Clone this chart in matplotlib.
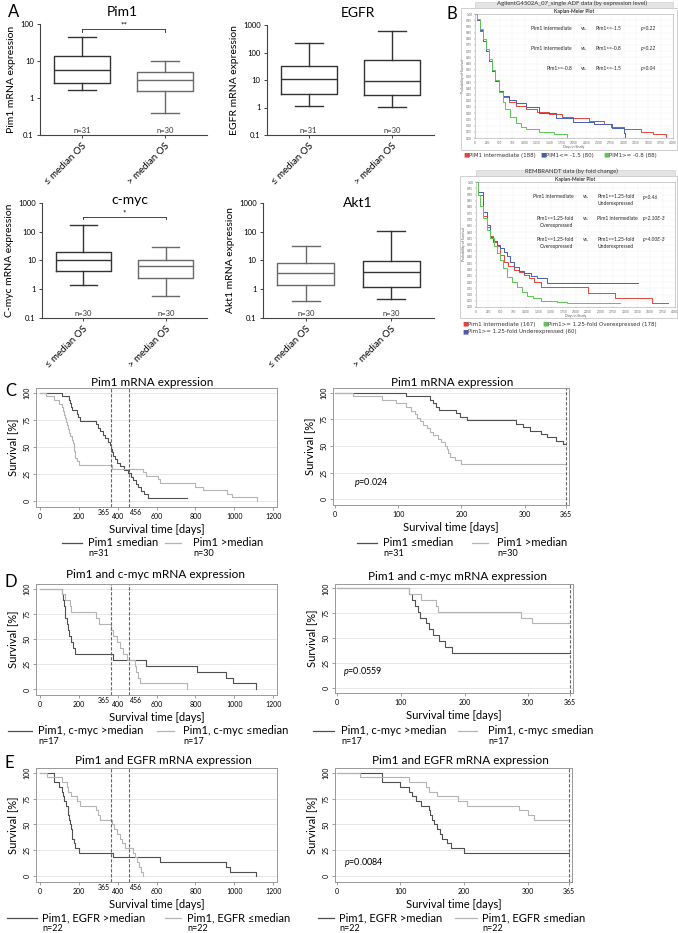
import numpy as np
import matplotlib
matplotlib.use("Agg")
import matplotlib.pyplot as plt
from matplotlib.lines import Line2D
from matplotlib.patches import Rectangle

plt.rcParams['font.family'] = ['Lato', 'DejaVu Sans']
plt.rcParams['mathtext.fontset'] = 'custom'
plt.rcParams['mathtext.it'] = 'Lato:italic'
plt.rcParams['mathtext.rm'] = 'Lato'

W, H = 678, 933

# ---------------- data: panel A (box plots, log scale) ----------------
groups = ["≤ median OS", "> median OS"]
pim1_n = ["n=31", "n=30"]
pim1_lo = [1.6, 0.39]
pim1_q1 = [2.6, 1.55]
pim1_med = [5.7, 3.05]
pim1_q3 = [13.8, 5.1]
pim1_hi = [45, 10]

egfr_n = ["n=31", "n=30"]
egfr_lo = [1.15, 1.05]
egfr_q1 = [3.2, 2.8]
egfr_med = [10.5, 9.0]
egfr_q3 = [33, 54]
egfr_hi = [230, 600]

cmyc_n = ["n=30", "n=30"]
cmyc_lo = [1.4, 0.56]
cmyc_q1 = [4.3, 2.45]
cmyc_med = [10.5, 6.3]
cmyc_q3 = [19.5, 10]
cmyc_hi = [165, 29]

akt1_n = ["n=30", "n=30"]
akt1_lo = [0.38, 0.46]
akt1_q1 = [1.4, 1.2]
akt1_med = [3.8, 4.0]
akt1_q3 = [8.4, 9.6]
akt1_hi = [33, 107]

# ---------------- data: panel B (Kaplan-Meier screenshots) ----------------
agl_red_t = [0, 40, 100, 160, 220, 280, 340, 400, 480, 560, 680, 820, 1025, 1250, 1500, 1750,
             1980, 2300, 2600, 2740, 3000, 3350, 3600, 3860]
agl_red_s = [1, .95, .86, .78, .70, .62, .54, .46, .38, .33, .29, .26, .23, .21, .19, .17,
             .16, .14, .11, .09, .07, .05, .03, .01]
agl_blue_t = [0, 40, 100, 160, 220, 280, 340, 400, 480, 560, 680, 820, 1025, 1300, 1640, 1980,
              2400, 2770, 3000, 3040]
agl_blue_s = [1, .95, .87, .78, .70, .62, .54, .46, .38, .34, .31, .28, .25, .20, .16, .13,
              .11, .08, .04, .01]
agl_green_t = [0, 40, 100, 160, 220, 280, 340, 400, 480, 560, 615, 700, 820, 920, 1025, 1300,
               1600, 1850]
agl_green_s = [1, .96, .88, .80, .72, .64, .55, .47, .37, .29, .23, .17, .12, .09, .07, .05,
               .03, .01]

rem_red_t = [0, 50, 149, 220, 284, 350, 419, 480, 554, 650, 757, 860, 960, 1060, 1163, 1298,
             2109, 2244, 2785, 3529, 3867]
rem_red_s = [1, .90, .73, .64, .57, .52, .49, .42, .36, .33, .30, .28, .26, .23, .20, .16,
             .16, .11, .07, .03, .03]
rem_blue_t = [0, 50, 149, 220, 284, 350, 420, 487, 560, 622, 690, 757, 860, 960, 1100, 1230,
              1433, 3258]
rem_blue_s = [1, .92, .76, .66, .56, .53, .50, .47, .44, .41, .36, .32, .29, .27, .25, .23,
              .19, .19]
rem_green_t = [0, 40, 81, 150, 216, 280, 352, 420, 487, 550, 622, 720, 825, 920, 1028, 1150,
               1298, 1636, 1839, 2887]
rem_green_s = [1, .90, .81, .71, .62, .55, .49, .43, .38, .31, .24, .20, .16, .12, .09, .07,
               .05, .04, .03, .03]

# ---------------- data: panels C-E (survival in %) ----------------
c_dark_t = [0, 113, 150, 155, 160, 165, 192, 198, 208, 287, 298, 308, 325, 335, 350, 360,
            368, 372, 377, 385, 395, 411, 432, 454, 470, 480, 495, 505, 520, 537, 557, 755]
c_dark_s = [100, 96.8, 93.5, 90.3, 87.1, 83.9, 80.6, 77.4, 74.2, 71.0, 67.7, 64.5, 61.3, 58.1, 54.8, 51.6,
            48.4, 45.2, 41.9, 38.7, 35.5, 32.3, 29.0, 25.8, 22.6, 19.4, 16.1, 12.9, 9.7, 6.5, 3.2, 3.2]
c_light_t = [0, 29, 74, 97, 113, 121, 126, 129, 134, 139, 145, 150, 155, 163, 168, 174, 177,
             179, 182, 190, 200, 370, 532, 545, 610, 617, 798, 841, 961, 990, 1116]
c_light_s = [100, 96.7, 93.3, 90.0, 86.7, 83.3, 80.0, 76.7, 73.3, 70.0, 66.7, 63.3, 60.0, 56.7, 53.3, 50.0, 46.7,
             43.3, 40.0, 36.7, 33.3, 30.0, 26.7, 23.3, 20.0, 16.7, 13.3, 10.0, 6.7, 3.3, 0]

d_dark_t = [0, 113, 118, 122, 127, 130, 139, 145, 150, 160, 170, 180, 378, 548, 806, 960, 994, 1114]
d_dark_s = [100, 94.1, 88.2, 82.4, 76.5, 70.6, 64.7, 58.8, 52.9, 47.1, 41.2, 35.3, 29.4, 23.5, 17.6,
            11.8, 5.9, 0]
d_light_t = [0, 113, 131, 155, 158, 289, 305, 368, 378, 395, 412, 430, 450, 489, 495, 505, 515, 755]
d_light_s = [100, 94.1, 88.2, 82.4, 76.5, 70.6, 64.7, 58.8, 52.9, 47.1, 41.2, 35.3, 29.4, 23.5, 17.6,
             11.8, 5.9, 0]

e_dark_t = [0, 71, 100, 113, 118, 124, 132, 145, 147, 150, 153, 158, 163, 166, 174, 179, 200,
            377, 617, 960, 977, 1114]
e_dark_s = [100, 90.9, 86.4, 81.8, 77.3, 72.7, 68.2, 63.6, 59.1, 54.5, 50.0, 45.5, 40.9, 36.4,
            31.8, 27.3, 22.7, 18.2, 13.6, 9.1, 4.5, 0]
e_light_t = [0, 37, 113, 140, 145, 158, 190, 205, 287, 300, 310, 370, 380, 395, 410, 425, 440,
             480, 490, 500, 510, 520, 531]
e_light_s = [100, 95.5, 90.9, 86.4, 81.8, 77.3, 72.7, 68.2, 63.6, 59.1, 54.5, 50.0, 45.5, 40.9,
             36.4, 31.8, 27.3, 22.7, 18.2, 13.6, 9.1, 4.5, 0]

DARK = "#4f4f4f"
LIGHT = "#b4b4b4"
RED, BLUE, GREEN = "#e2453c", "#4b5db3", "#5ec653"

fig = plt.figure(figsize=(W / 100, H / 100), dpi=100)


def px_axes(l, t, r, b):
    return fig.add_axes([l / W, 1 - b / H, (r - l) / W, (b - t) / H])


def ftext(x, y, s, **kw):
    kw.setdefault("va", "center")
    return fig.text(x / W, 1 - y / H, s, **kw)


def fline(x0, x1, y, color, lw=0.9):
    fig.add_artist(Line2D([x0 / W, x1 / W], [1 - y / H, 1 - y / H], color=color, lw=lw,
                          transform=fig.transFigure))


# ---------------- panel A ----------------
def box_panel(ax, lo, q1, med, q3, hi, nlab, top, colors, sig=None):
    stats = [dict(whislo=lo[i], q1=q1[i], med=med[i], q3=q3[i], whishi=hi[i], fliers=[])
             for i in range(2)]
    art = ax.bxp(stats, positions=[1, 2], widths=0.67, showfliers=False, capwidths=0.33,
                 patch_artist=False)
    for i in range(2):
        c = colors[i]
        art["boxes"][i].set(color=c, lw=1.0)
        art["medians"][i].set(color=c, lw=1.0)
        for k in (2 * i, 2 * i + 1):
            art["whiskers"][k].set(color=c, lw=1.0)
            art["caps"][k].set(color=c, lw=1.0)
    ax.set_yscale("log")
    ax.set_ylim(0.1, top)
    ax.set_xlim(0.5, 2.5)
    ticks = [0.1, 1, 10, 100, 1000]
    ticks = [t for t in ticks if t <= top]
    ax.set_yticks(ticks)
    ax.set_yticklabels([("%g" % t) for t in ticks], fontsize=5.5)
    ax.yaxis.set_minor_locator(matplotlib.ticker.NullLocator())
    ax.set_xticks([1, 2])
    ax.set_xticklabels(groups, rotation=45, ha="right", rotation_mode="anchor", fontsize=7)
    ax.tick_params(length=2.5, width=0.7, color="#444", pad=2)
    for s in ("top", "right"):
        ax.spines[s].set_visible(False)
    for s in ("left", "bottom"):
        ax.spines[s].set_color("#444")
        ax.spines[s].set_linewidth(0.8)
    for i in range(2):
        ax.text(i + 1, 0.105, nlab[i], ha="center", va="bottom", fontsize=5.5, color="#333")
    if sig is not None:
        ylev, mark = sig
        ax.plot([1, 2], [ylev, ylev], color="#444", lw=0.7)
        ax.plot([1, 1], [ylev * 0.85, ylev], color="#444", lw=0.7)
        ax.plot([2, 2], [ylev * 0.85, ylev], color="#444", lw=0.7)
        ax.text(1.5, ylev * 1.05, mark, ha="center", va="bottom", fontsize=6)


ax = px_axes(40, 24, 207, 135)
box_panel(ax, pim1_lo, pim1_q1, pim1_med, pim1_q3, pim1_hi, pim1_n, 100, ["#333", "#6a6a6a"],
          sig=(73, "**"))
ax.set_ylabel("Pim1 mRNA expression", fontsize=7.5, labelpad=3)
ftext(122, 12, "Pim1", fontsize=10, ha="center")

ax = px_axes(267, 25, 434, 135)
box_panel(ax, egfr_lo, egfr_q1, egfr_med, egfr_q3, egfr_hi, egfr_n, 1000, ["#333", "#333"])
ax.set_ylabel("EGFR mRNA expression", fontsize=7.5, labelpad=3)
ftext(358, 13, "EGFR", fontsize=10, ha="center")

ax = px_axes(42, 203, 207, 318)
box_panel(ax, cmyc_lo, cmyc_q1, cmyc_med, cmyc_q3, cmyc_hi, cmyc_n, 1000, ["#333", "#6a6a6a"],
          sig=(320, "*"))
ax.set_ylabel("C-myc mRNA expression", fontsize=7.5, labelpad=3)
ftext(130, 200, "c-myc", fontsize=10, ha="center")

ax = px_axes(263, 203, 434, 318)
box_panel(ax, akt1_lo, akt1_q1, akt1_med, akt1_q3, akt1_hi, akt1_n, 1000, ["#6a6a6a", "#333"])
ax.set_ylabel("Akt1 mRNA expression", fontsize=7.5, labelpad=3)
ftext(358, 203, "Akt1", fontsize=10, ha="center")

# ---------------- panel B ----------------
def km_shot(frame, inner, curves, rows, title, title_y):
    l, t, r, b = frame
    fig.add_artist(Rectangle((l / W, 1 - b / H), (r - l) / W, (b - t) / H, fill=False,
                             ec="#c8c8c8", lw=0.6, transform=fig.transFigure))
    il, it, ir, ib = inner
    fig.add_artist(Rectangle((il / W, 1 - it / H), (ir - il) / W, 6 / H, fc="#e4e4e4",
                             ec="#c8c8c8", lw=0.4, transform=fig.transFigure))
    ftext((il + ir) / 2, it + 3, "Kaplan-Meier Plot", fontsize=3.6, ha="center",
          fontweight="bold", color="#333")
    ftext((l + r) / 2 + 3, title_y, title, fontsize=4.3, ha="center", color="#333")
    a = px_axes(il, it + 6, ir, ib)
    for tt, ss, c in curves:
        a.step(tt, ss, where="post", color=c, lw=0.7)
    a.set_xlim(0, 4000)
    a.set_ylim(0, 1.0)
    a.set_xticks(np.arange(0, 4001, 250))
    a.set_xticklabels(["{:,}".format(v) for v in range(0, 4001, 250)], fontsize=2.2)
    a.set_yticks(np.arange(0, 1.001, 0.05))
    a.set_yticklabels(["%.2f" % v for v in np.arange(0, 1.001, 0.05)], fontsize=2.2)
    a.tick_params(length=1, width=0.3, pad=1, colors="#666")
    a.grid(True, color="#eeeeee", lw=0.3)
    for s in a.spines.values():
        s.set_color("#aaaaaa")
        s.set_linewidth(0.4)
    a.set_xlabel("Days in Study", fontsize=2.5, labelpad=0.5, color="#555")
    a.set_ylabel("Probability of Survival", fontsize=2.5, labelpad=1, color="#555")
    for (y, left, right, p) in rows:
        for k, txt in enumerate(left.split("\n")):
            a.text(0.49, y - k * 0.055, txt, transform=a.transAxes, ha="right", va="center",
                   fontsize=3.6, color="#222")
        a.text(0.55, y, "vs.", transform=a.transAxes, ha="center", va="center", fontsize=3.6,
               color="#222")
        for k, txt in enumerate(right.split("\n")):
            a.text(0.61, y - k * 0.055, txt, transform=a.transAxes, ha="left", va="center",
                   fontsize=3.6, color="#222")
        a.text(0.84, y, p, transform=a.transAxes, ha="left", va="center", fontsize=3.6,
               color="#222", style="italic")
    return a


km_shot((461, 8, 677, 150), (475, 8, 673, 138),
        [(agl_red_t, agl_red_s, RED), (agl_blue_t, agl_blue_s, BLUE),
         (agl_green_t, agl_green_s, GREEN)],
        [(0.88, "Pim1 intermediate", "Pim1<=-1.5", "p=0.22"),
         (0.72, "Pim1 intermediate", "Pim1>=-0.8", "p=0.22"),
         (0.56, "Pim1>=-0.8", "Pim1<=-1.5", "p=0.04")],
        "AgilentG4502A_07_single ADF data (by expression level)", 3)

ftext(463, 155, "■", color=RED, fontsize=4.5, family="DejaVu Sans")
ftext(469, 155, "PIM1 intermediate (188)", fontsize=4, family="DejaVu Sans", color="#333")
ftext(540, 155, "■", color=BLUE, fontsize=4.5, family="DejaVu Sans")
ftext(546, 155, "PIM1<= -1.5 (80)", fontsize=4, family="DejaVu Sans", color="#333")
ftext(603, 155, "■", color=GREEN, fontsize=4.5, family="DejaVu Sans")
ftext(609, 155, "PIM1>= -0.8 (88)", fontsize=4, family="DejaVu Sans", color="#333")

km_shot((460, 176, 677, 318), (476, 176, 675, 307),
        [(rem_red_t, rem_red_s, RED), (rem_blue_t, rem_blue_s, BLUE),
         (rem_green_t, rem_green_s, GREEN)],
        [(0.88, "Pim1 intermediate", "Pim1>=1.25-fold\nUnderexpressed", "p=0.46"),
         (0.71, "Pim1>=1.25-fold\nOverexpressed", "Pim1 intermediate", "p=2.10E-3"),
         (0.54, "Pim1>=1.25-fold\nOverexpressed", "Pim1>=1.25-fold\nUnderexpressed", "p=4.00E-3")],
        "REMBRANDT data (by fold change)", 171)

ftext(462, 324, "■", color=RED, fontsize=4.5, family="DejaVu Sans")
ftext(468, 324, "Pim1 intermediate (167)", fontsize=4, family="DejaVu Sans", color="#333")
ftext(542, 324, "■", color=GREEN, fontsize=4.5, family="DejaVu Sans")
ftext(548, 324, "Pim1>= 1.25-fold Overexpressed (178)", fontsize=4, family="DejaVu Sans", color="#333")
ftext(462, 332, "■", color=BLUE, fontsize=4.5, family="DejaVu Sans")
ftext(468, 332, "Pim1>= 1.25-fold Underexpressed (60)", fontsize=4, family="DejaVu Sans", color="#333")

# ---------------- panels C-E ----------------
def km_style(a, xlim, ylim):
    a.set_xlim(*xlim)
    a.set_ylim(*ylim)
    a.set_yticks([0, 25, 50, 75, 100])
    a.set_yticklabels(["0", "25", "50", "75", "100"], rotation=90, va="center", fontsize=5)
    a.yaxis.grid(True, color="#e8e8e8", lw=0.7)
    a.set_axisbelow(True)
    a.tick_params(length=2, width=0.5, color="#777", pad=2, labelsize=5)
    for s in a.spines.values():
        s.set_color("#999")
        s.set_linewidth(0.7)
    a.set_ylabel("Survival [%]", fontsize=8, labelpad=4)


def km_left(box, dark, light, title, title_xy):
    a = px_axes(*box)
    a.step(dark[0], dark[1], where="post", color=DARK, lw=0.8)
    a.step(light[0], light[1], where="post", color=LIGHT, lw=0.8)
    for d in (365, 456):
        a.axvline(d, ls="--", color="#666", lw=0.8, dashes=(3, 1.5))
    km_style(a, (-20, 1220), (-5.5, 104.5))
    a.set_xticks([0, 200, 400, 600, 800, 1000, 1200])
    tr = a.get_xaxis_transform()
    a.text(360, -0.015, "365", transform=tr, ha="right", va="top", fontsize=5)
    a.text(461, -0.015, "456", transform=tr, ha="left", va="top", fontsize=5)
    a.set_xlabel("Survival time [days]", fontsize=8, labelpad=3)
    ftext(title_xy[0], title_xy[1], title, fontsize=8.5, ha="center")
    return a


def km_right(box, dark, light, title, title_xy, ptxt, pxy):
    a = px_axes(*box)
    for (tt, ss, c) in ((dark[0], dark[1], DARK), (light[0], light[1], LIGHT)):
        tt = np.asarray(tt, float)
        ss = np.asarray(ss, float)
        keep = tt <= 365
        t2 = np.append(tt[keep], 365)
        s2 = np.append(ss[keep], ss[keep][-1])
        a.step(t2, s2, where="post", color=c, lw=0.8)
    a.axvline(365, ls="--", color="#666", lw=0.8, dashes=(3, 1.5))
    km_style(a, (-3, 370), (-5.5, 104.5))
    a.set_xticks([0, 100, 200, 300, 365])
    a.set_xlabel("Survival time [days]", fontsize=8, labelpad=3)
    a.text(pxy[0], pxy[1], ptxt, transform=a.transAxes, fontsize=6.5, ha="left", va="center")
    ftext(title_xy[0], title_xy[1], title, fontsize=8.5, ha="center")
    return a


def legend_row(y, entries):
    for (x0, x1, xt, lab, n, c) in entries:
        fline(x0, x1, y, c)
        ftext(xt, y, lab, fontsize=8)
        ftext(xt, y + 10.5, n, fontsize=6.5)


# C
km_left((36, 388, 277, 507), (c_dark_t, c_dark_s), (c_light_t, c_light_s),
        "Pim1 mRNA expression", (152, 382))
km_right((333, 388, 569, 505), (c_dark_t, c_dark_s), (c_light_t, c_light_s),
         "Pim1 mRNA expression", (452, 382), r"$p$=0.024", (0.09, 0.19))
legend_row(543, [(62, 82, 88, "Pim1 ≤median", "n=31", DARK),
                 (165, 181, 193, "Pim1 >median", "n=30", LIGHT),
                 (357, 377, 383, "Pim1 ≤median", "n=31", DARK),
                 (472, 488, 497, "Pim1 >median", "n=30", LIGHT)])

# D
km_left((36, 584, 277, 695), (d_dark_t, d_dark_s), (d_light_t, d_light_s),
        "Pim1 and c-myc mRNA expression", (155, 575))
km_right((335, 584, 573, 693), (d_dark_t, d_dark_s), (d_light_t, d_light_s),
         "Pim1 and c-myc mRNA expression", (457, 576), r"$p$=0.0559", (0.035, 0.2))
legend_row(731, [(8, 32, 38, "Pim1, c-myc >median", "n=17", DARK),
                 (157, 174, 183, "Pim1, c-myc ≤median", "n=17", LIGHT),
                 (313, 334, 341, "Pim1, c-myc >median", "n=17", DARK),
                 (458, 477, 488, "Pim1, c-myc ≤median", "n=17", LIGHT)])

# E
km_left((36, 768, 277, 882), (e_dark_t, e_dark_s), (e_light_t, e_light_s),
        "Pim1 and EGFR mRNA expression", (163, 760))
km_right((335, 768, 572, 882), (e_dark_t, e_dark_s), (e_light_t, e_light_s),
         "Pim1 and EGFR mRNA expression", (460, 760), r"$p$=0.0084", (0.04, 0.17))
legend_row(918, [(7, 37, 42, "Pim1, EGFR >median", "n=22", DARK),
                 (165, 181, 187, "Pim1, EGFR ≤median", "n=22", LIGHT),
                 (318, 334, 339, "Pim1, EGFR >median", "n=22", DARK),
                 (455, 477, 482, "Pim1, EGFR ≤median", "n=22", LIGHT)])

# panel letters
ftext(8, 12, "A", fontsize=12)
ftext(447, 14, "B", fontsize=12)
ftext(5, 391, "C", fontsize=12)
ftext(5, 582, "D", fontsize=12)
ftext(4, 763, "E", fontsize=12)

fig.savefig("out.png", dpi=100)
